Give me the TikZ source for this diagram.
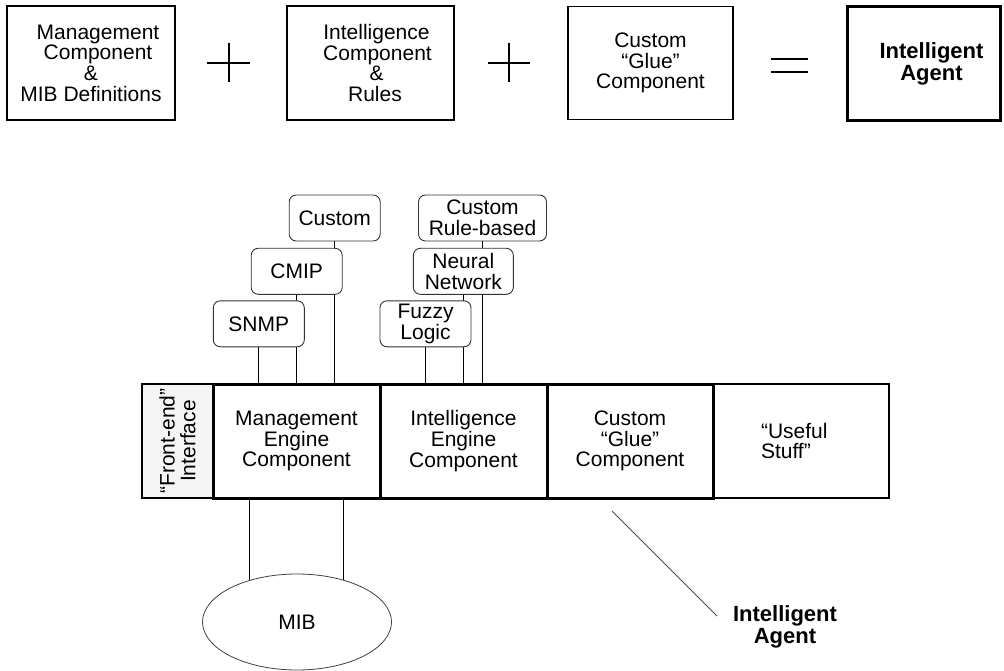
\documentclass[tikz,border=0pt]{standalone}
\usepackage{fontspec}
\setmainfont{Liberation Sans}
\usetikzlibrary{shapes.geometric}
\pgfdeclarelayer{wires}
\pgfsetlayers{wires,main}

\begin{document}
\begin{tikzpicture}[x=1pt,y=-1pt,
  every node/.style={font=\fontsize{21}{20.7}\selectfont, inner sep=0pt, outer sep=0pt, align=center},
  thinbox/.style={draw=black, line width=1.2pt, fill=white},
  thickbox/.style={draw=black, line width=3pt},
  protobox/.style={draw=black!80, line width=0.9pt, rounded corners=7pt, fill=white,
                   minimum height=46pt},
  wire/.style={line width=1pt},
  signstroke/.style={line width=2pt},
  boldtext/.style={font=\fontsize{22}{22}\selectfont\bfseries},
  leader/.style={line width=0.8pt, draw=black!70}]

\useasboundingbox (0,0) rectangle (1004,671);

% ---- equation row -------------------------------------------------------
\node[thinbox, minimum width=168pt, minimum height=114pt] (mgmtdef) at (91,63)
  {\hspace*{14pt}Management\\\hspace*{14pt}Component\\\&\\MIB Definitions};
\node[thinbox, minimum width=167pt, minimum height=114pt] (intelrules) at (370.5,63)
  {\hspace*{12pt}Intelligence\\\hspace*{14pt}Component\\\hspace*{12pt}\&\\\hspace*{9pt}Rules};
\node[thinbox, minimum width=165pt, minimum height=113pt] (gluedef) at (650.5,63)
  {Custom\\“Glue”\\Component};
\node[thickbox, boldtext, minimum width=153pt, minimum height=114pt] (agentdef) at (923.5,64)
  {\hspace*{16pt}Intelligent\\\hspace*{16pt}Agent};

% plus and equals signs
\draw[signstroke] (207,62.7) -- (250,62.7) (229,43) -- (229,82);
\draw[signstroke] (488,62.7) -- (530,62.7) (509,43) -- (509,82);
\draw[signstroke] (771,59.3) -- (808,59.3) (771,71.7) -- (808,71.7);

% ---- agent bar ----------------------------------------------------------
\node[thinbox, fill=gray!8, rotate=90, minimum width=114pt, minimum height=71pt] (frontend)
  at (177.5,441) {“Front-end”\\Interface};
\node[thinbox, minimum width=176pt, minimum height=114pt, text width=80pt, align=left] (useful)
  at (801,441) {“Useful\\Stuff”};
\node[thickbox, minimum width=167pt, minimum height=114pt] (mgmteng) at (296.5,441)
  {Management\\Engine\\Component};
\node[thickbox, minimum width=167pt, minimum height=114pt] (inteleng) at (463.5,441)
  {Intelligence\\Engine\\Component};
\node[thickbox, minimum width=166pt, minimum height=114pt] (glueeng) at (630,441)
  {Custom\\“Glue”\\Component};

% ---- protocol plug-ins ---------------------------------------------------
\node[protobox, minimum width=91pt] (custproto) at (334.7,218) {Custom};
\node[protobox, minimum width=91pt] (cmip) at (296.7,271.3) {CMIP};
\node[protobox, minimum width=91pt] (snmp) at (258.8,323.8) {SNMP};

% ---- reasoning plug-ins --------------------------------------------------
\node[protobox, minimum width=128pt] (rulebased) at (482.5,218) {Custom\\Rule-based};
\node[protobox, minimum width=100pt] (neural) at (463.3,271.3) {Neural\\Network};
\node[protobox, minimum width=91pt] (fuzzy) at (425.5,323.8) {Fuzzy\\Logic};

% ---- MIB store -----------------------------------------------------------
\node[ellipse, draw=black!75, line width=0.8pt, minimum width=189pt, minimum height=96pt]
  (mib) at (297,622) {MIB};

% plug-in wires run behind the boxes
\begin{pgfonlayer}{wires}
  \draw[wire] (snmp.south) -- (snmp.south |- mgmteng.north);
  \draw[wire] (cmip.south) -- (cmip.south |- mgmteng.north);
  \draw[wire] (custproto.south) -- (custproto.south |- mgmteng.north);
  \draw[wire] (fuzzy.south) -- (fuzzy.south |- inteleng.north);
  \draw[wire] (neural.south) -- (neural.south |- inteleng.north);
  \draw[wire] (rulebased.south) -- (rulebased.south |- inteleng.north);
  \draw[wire] (mib.139) -- (mib.139 |- mgmteng.south);
  \draw[wire] (mib.42) -- (mib.42 |- mgmteng.south);
\end{pgfonlayer}

% ---- callout -------------------------------------------------------------
\coordinate (calloutstart) at (612,511);
\coordinate (calloutend) at (717,616);
\draw[leader] (calloutstart) -- (calloutend);
\node[boldtext] (agentlabel) at (785,627) {Intelligent\\Agent};

\end{tikzpicture}
\end{document}
